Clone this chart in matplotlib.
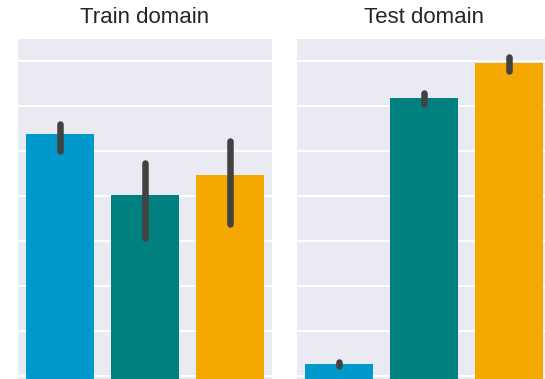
import matplotlib
matplotlib.use("Agg")
import matplotlib.pyplot as plt
import numpy as np

plt.rcParams['font.family'] = ['Liberation Sans', 'DejaVu Sans']

panels = ["Train domain", "Test domain"]
colors = ["#0099CC", "#008080", "#F5A800"]

# bar heights and confidence-interval bounds per panel
train_vals = [0.838, 0.702, 0.747]
train_lo = [0.800, 0.607, 0.638]
train_hi = [0.861, 0.773, 0.823]

test_vals = [0.327, 0.918, 0.996]
test_lo = [0.322, 0.905, 0.978]
test_hi = [0.331, 0.930, 1.010]

values = [train_vals, test_vals]
lows = [train_lo, test_lo]
highs = [train_hi, test_hi]

W, H = 545, 379
fig = plt.figure(figsize=(W / 100, H / 100), dpi=100)
fig.patch.set_facecolor("white")

ax_left_px = [18, 297]
ax_w_px = 254
ax_top_px = 39

ticks = np.arange(0.3, 1.01, 0.1)

for i, title in enumerate(panels):
    ax = fig.add_axes([ax_left_px[i] / W, 0, ax_w_px / W, (H - ax_top_px) / H])
    ax.set_facecolor("#EAEAF2")
    ax.set_axisbelow(True)
    x = np.arange(3)
    ax.bar(x, values[i], width=0.8, color=colors, zorder=2)
    for xi, lo, hi in zip(x, lows[i], highs[i]):
        ax.plot([xi, xi], [lo, hi], color="#424242", lw=4.7,
                solid_capstyle="round", zorder=3)
    ax.set_xlim(-0.5, 2.5)
    ax.set_ylim(0.2933, 1.0489)
    ax.set_yticks(ticks)
    ax.set_xticks([])
    ax.tick_params(left=False, labelleft=False, bottom=False, labelbottom=False)
    ax.grid(axis="y", color="white", lw=1.4)
    for s in ax.spines.values():
        s.set_visible(False)
    ax.set_title(title, fontsize=16, color="#262626", pad=11.5)

fig.savefig("out.png", dpi=100)
